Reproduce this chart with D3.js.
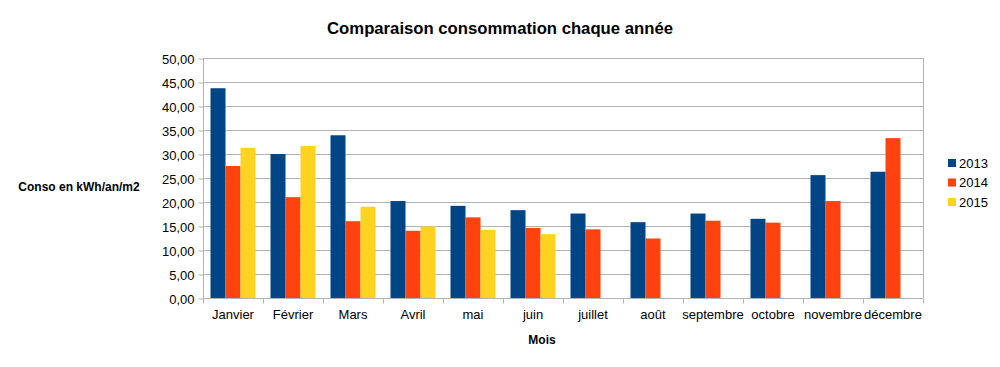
<!DOCTYPE html>
<html><head><meta charset="utf-8">
<script src="https://cdn.jsdelivr.net/npm/d3@7"></script>
<style>body{margin:0;background:#fff}svg{display:block;font-family:"Liberation Sans",Arial,sans-serif}</style>
</head><body><svg id="c" width="1000" height="367"></svg>
<script>
const months = ["Janvier","Février","Mars","Avril","mai","juin","juillet","août","septembre","octobre","novembre","décembre"];
const seriesNames = ["2013","2014","2015"];
const v2013 = [43.7,30.0,33.9,20.2,19.2,18.3,17.6,15.8,17.6,16.5,25.6,26.3];
const v2014 = [27.5,21.0,16.0,14.0,16.8,14.6,14.3,12.4,16.1,15.7,20.2,33.3];
const v2015 = [31.3,31.7,19.0,14.9,14.2,13.3,null,null,null,null,null,null];
const yTicks = [0,5,10,15,20,25,30,35,40,45,50];
const colors = ["#004586","#ff420e","#ffd320"];

const svg = d3.select("#c");
const L=203, R=923, T=58, B=298;
const x = d3.scaleBand().domain(months).range([L,R]).paddingInner(0.25).paddingOuter(0.125);
const xOuter = d3.scaleBand().domain(months).range([L,R]);
const xs = d3.scaleBand().domain(seriesNames).range([0,x.bandwidth()]);
const y = d3.scaleLinear().domain([0,50]).range([B,T]);
const fmt = d => d.toFixed(2).replace(".",",");

// gridlines
svg.append("g").selectAll("line").data(yTicks).join("line")
  .attr("x1",L).attr("x2",R).attr("y1",d=>y(d)+0.5).attr("y2",d=>y(d)+0.5)
  .attr("stroke","#b3b3b3").attr("stroke-width",1);
svg.append("line").attr("x1",R+0.5).attr("x2",R+0.5).attr("y1",T).attr("y2",B).attr("stroke","#b3b3b3");

// bars
const data = [v2013,v2014,v2015];
data.forEach((arr,si)=>{
  svg.append("g").selectAll("rect").data(months.map((m,i)=>({m,v:arr[i]})).filter(d=>d.v!=null)).join("rect")
    .attr("x",d=>x(d.m)+xs(seriesNames[si]))
    .attr("width",xs.bandwidth())
    .attr("y",d=>y(d.v)).attr("height",d=>B-y(d.v))
    .attr("fill",colors[si]);
});

// y axis
const ya = d3.axisLeft(y).tickValues(yTicks).tickFormat(fmt).tickSize(5).tickPadding(4);
const yg = svg.append("g").attr("transform",`translate(${L+0.5},0.5)`).call(ya);
yg.select(".domain").attr("stroke","#b3b3b3").attr("d",`M0,${T}V${B}`);
yg.selectAll(".tick line").attr("stroke","#b3b3b3");
yg.selectAll("text").attr("font-size",13).attr("fill","#000").attr("font-family","Liberation Sans, Arial, sans-serif").attr("dy","0.36em");

// x axis
const xg = svg.append("g").attr("transform",`translate(0,${B+0.5})`);
xg.append("line").attr("x1",L).attr("x2",R).attr("stroke","#b3b3b3");
xg.selectAll(".tk").data(months.concat(["_end"])).join("line")
  .attr("x1",(d,i)=> (i<12? xOuter(d): R)+0.5).attr("x2",(d,i)=> (i<12? xOuter(d): R)+0.5)
  .attr("y1",0).attr("y2",5).attr("stroke","#b3b3b3");
xg.selectAll("text").data(months).join("text")
  .attr("x",d=>xOuter(d)+xOuter.bandwidth()/2).attr("y",20)
  .attr("text-anchor","middle").attr("font-size",13).attr("fill","#000").text(d=>d);

// titles
svg.append("text").attr("x",500).attr("y",34).attr("text-anchor","middle")
  .attr("font-size",16.7).attr("font-weight","bold").text("Comparaison consommation chaque année");
svg.append("text").attr("x",79).attr("y",191).attr("text-anchor","middle")
  .attr("font-size",12).attr("font-weight","bold").text("Conso en kWh/an/m2");
svg.append("text").attr("x",542).attr("y",344).attr("text-anchor","middle")
  .attr("font-size",12).attr("font-weight","bold").text("Mois");

// legend
const lg = svg.append("g").selectAll("g").data(seriesNames).join("g")
  .attr("transform",(d,i)=>`translate(948,${159+i*19.5})`);
lg.append("rect").attr("width",8).attr("height",8).attr("fill",(d,i)=>colors[i]);
lg.append("text").attr("x",11).attr("y",8.5).attr("font-size",13).text(d=>d);
</script></body></html>
